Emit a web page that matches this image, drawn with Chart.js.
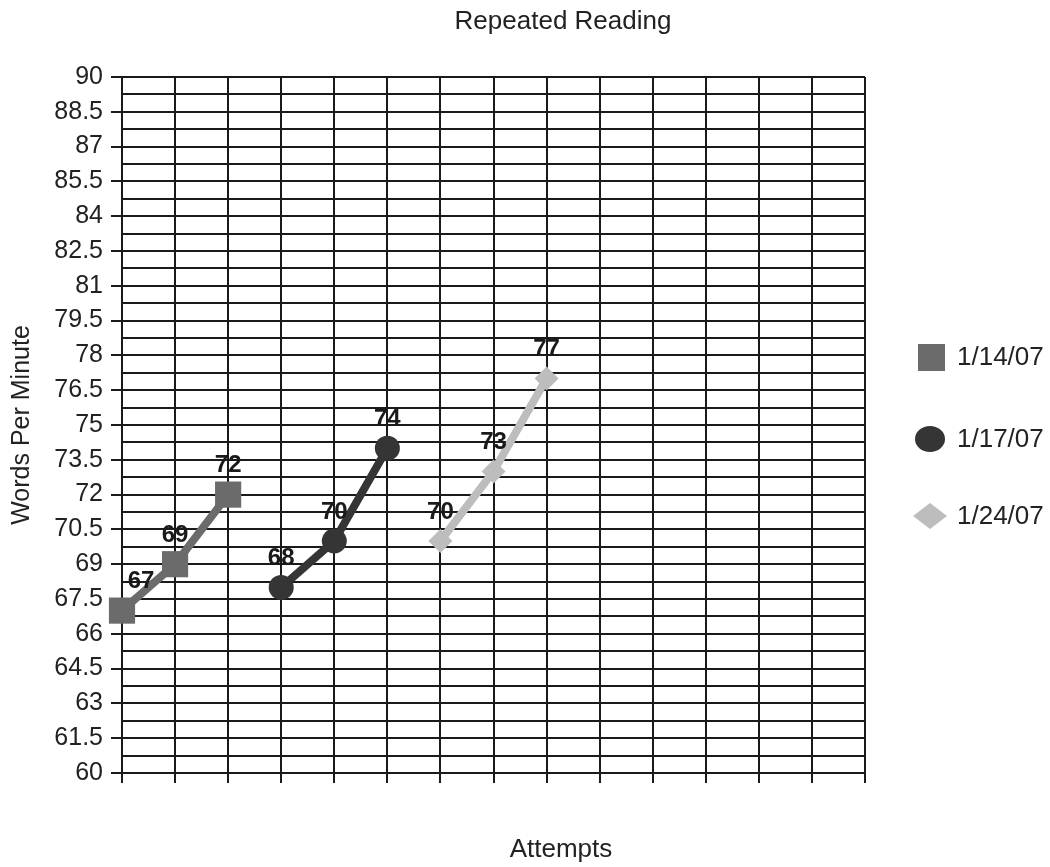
<!DOCTYPE html>
<html>
<head>
<meta charset="utf-8">
<script src="https://cdn.jsdelivr.net/npm/chart.js@4/dist/chart.umd.min.js"></script>
<style>
  body { margin: 0; background: #fff; }
</style>
</head>
<body>
<canvas id="myChart" width="1050" height="867"></canvas>
<script>
// data
const seriesNames = ['1/14/07', '1/17/07', '1/24/07'];
const attempts1 = [1, 2, 3];
const wpm1 = [67, 69, 72];
const attempts2 = [4, 5, 6];
const wpm2 = [68, 70, 74];
const attempts3 = [7, 8, 9];
const wpm3 = [70, 73, 77];

const yMin = 60, yMax = 90, yStep = 0.75, yLabelStep = 1.5;
const xMin = 1, xMax = 15;

const lineColors = ['#6b6b6b', '#353535', '#bdbdbd'];
const pointStyles = ['rect', 'circle', 'rectRot'];
const pointSizes = [18.5, 12.5, 12];

const FONT = 'Arial, "Liberation Sans", sans-serif';

// pairs x with y for the line
function toPoints(xs, ys) {
    return xs.map((x, i) => ({ x: x, y: ys[i] }));
}

const allSeries = [toPoints(attempts1, wpm1), toPoints(attempts2, wpm2), toPoints(attempts3, wpm3)];

// value labels above each point + titles + legend
const extraDraw = {
    id: 'extraDraw',
    afterDatasetsDraw(chart) {
        const ctx = chart.ctx;
        const area = chart.chartArea;
        ctx.save();
        ctx.font = 'bold 24px ' + FONT;
        ctx.fillStyle = '#1a1a1a';
        ctx.textAlign = 'center';
        ctx.textBaseline = 'middle';
        chart.data.datasets.forEach((ds, di) => {
            const meta = chart.getDatasetMeta(di);
            meta.data.forEach((pt, i) => {
                const x = Math.max(pt.x, area.left + 19);
                ctx.fillText(String(ds.data[i].y), x, pt.y - 29);
            });
        });

        // titles
        ctx.font = '26px ' + FONT;
        ctx.fillStyle = '#222';
        ctx.fillText('Repeated Reading', 563, 22);
        ctx.fillText('Attempts', 561, 850);

        // legend
        const legendY = [357, 439, 516];
        ctx.textAlign = 'left';
        seriesNames.forEach((name, i) => {
            const y = legendY[i];
            ctx.fillStyle = lineColors[i];
            if (i === 0) {
                ctx.fillRect(918, y - 13, 27, 27);
            } else if (i === 1) {
                ctx.beginPath();
                ctx.ellipse(930, y, 15, 13, 0, 0, Math.PI * 2);
                ctx.fill();
            } else {
                ctx.beginPath();
                ctx.moveTo(930, y - 13);
                ctx.lineTo(947, y);
                ctx.lineTo(930, y + 13);
                ctx.lineTo(913, y);
                ctx.closePath();
                ctx.fill();
            }
            ctx.fillStyle = '#222';
            ctx.fillText(name, 957, y + 1);
        });
        ctx.restore();
    }
};

const myChart = new Chart(document.getElementById('myChart'), {
    type: 'line',
    data: {
        datasets: allSeries.map((pts, i) => ({
            label: seriesNames[i],
            data: pts,
            borderColor: lineColors[i],
            backgroundColor: lineColors[i],
            borderWidth: 8,
            pointStyle: pointStyles[i],
            pointRadius: pointSizes[i],
            pointHoverRadius: pointSizes[i],
            pointBorderWidth: 0,
            tension: 0,
            clip: false
        }))
    },
    options: {
        responsive: false,
        animation: false,
        layout: { padding: { top: 77, right: 185, bottom: 0, left: 0 } },
        plugins: {
            legend: { display: false },
            tooltip: { enabled: false }
        },
        scales: {
            x: {
                type: 'linear',
                min: xMin,
                max: xMax,
                ticks: { stepSize: 1, callback: () => '' },
                grid: { color: '#1a1a1a', lineWidth: 2, tickLength: 10, tickColor: '#1a1a1a' },
                border: { color: '#1a1a1a', width: 2 },
                afterFit: s => { s.height = 94; }
            },
            y: {
                min: yMin,
                max: yMax,
                ticks: {
                    stepSize: yStep,
                    autoSkip: false,
                    padding: 8,
                    color: '#222',
                    font: { family: FONT, size: 25 },
                    callback: v => (Math.abs(v / yLabelStep - Math.round(v / yLabelStep)) < 1e-6 ? String(v) : '')
                },
                grid: {
                    color: '#1a1a1a',
                    lineWidth: 2,
                    tickLength: 11,
                    tickColor: ctx => (ctx.tick && ctx.tick.label !== '' ? '#1a1a1a' : 'rgba(0,0,0,0)')
                },
                border: { color: '#1a1a1a', width: 2 },
                title: {
                    display: true,
                    text: 'Words Per Minute',
                    color: '#222',
                    font: { family: FONT, size: 25 },
                    padding: { top: 7, bottom: 0 }
                },
                afterFit: s => { s.width = 122; }
            }
        }
    },
    plugins: [extraDraw]
});
</script>
</body>
</html>
